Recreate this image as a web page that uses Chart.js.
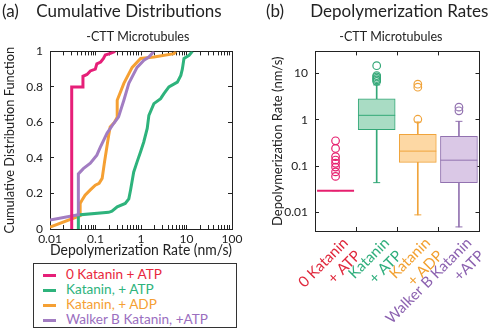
<!DOCTYPE html>
<html>
<head>
<meta charset="utf-8">
<script src="https://cdn.jsdelivr.net/npm/chart.js@4/dist/chart.umd.min.js"></script>
<style>
  html, body { margin: 0; padding: 0; background: #fff; }
  body { width: 500px; height: 331px; position: relative; overflow: hidden; font-family: Lato, "Open Sans", sans-serif; }
  #cdfWrap { position: absolute; left: 0; top: 0; width: 250px; height: 262px; }
  #boxWrap { position: absolute; left: 262px; top: 0; width: 238px; height: 331px; }
  #cdfLegend { position: absolute; left: 33px; top: 263px; width: 204px; height: 65px; border: 1px solid #333; box-sizing: border-box; padding-top: 3px; }
  #cdfLegend .row { height: 15px; line-height: 15px; font-size: 13.6px; white-space: nowrap; }
  #cdfLegend .sw { display: inline-block; width: 13px; height: 3px; margin: 0 10px 0 9px; vertical-align: middle; }
</style>
</head>
<body>
<div id="cdfWrap"><canvas id="cdfChart" width="250" height="262"></canvas></div>
<div id="cdfLegend"></div>
<div id="boxWrap"><canvas id="boxChart" width="238" height="331"></canvas></div>
<script>
// ---- (a) cumulative distributions: rate (nm/s) vs CDF
const zeroKatRate = [0.030, 0.030, 0.053, 0.053, 0.065, 0.077, 0.099, 0.107, 0.13, 0.15, 0.164, 0.22, 0.27];
const zeroKatCdf  = [0.0, 0.80, 0.80, 0.86, 0.87, 0.89, 0.90, 0.93, 0.94, 0.96, 0.98, 0.99, 1.0];

const katAtpRate = [0.042, 0.042, 0.195, 0.23, 0.30, 0.45, 0.54, 0.59, 0.69, 0.82, 0.975, 1.15, 1.37, 1.49, 1.92, 2.70, 3.19, 4.11, 6.3, 7.5, 8.1, 8.8, 11.4, 13.5];
const katAtpCdf  = [0.0, 0.079, 0.094, 0.10, 0.125, 0.144, 0.17, 0.22, 0.32, 0.378, 0.434, 0.49, 0.566, 0.64, 0.706, 0.734, 0.762, 0.80, 0.827, 0.865, 0.90, 0.96, 0.978, 1.0];

const katAdpRate = [0.01, 0.046, 0.046, 0.05, 0.059, 0.077, 0.099, 0.12, 0.14, 0.158, 0.195, 0.21, 0.26, 0.30, 0.30, 0.42, 0.64, 0.98, 1.93, 5.3, 5.8];
const katAdpCdf  = [0.01, 0.075, 0.144, 0.16, 0.19, 0.22, 0.247, 0.257, 0.285, 0.378, 0.528, 0.575, 0.60, 0.63, 0.725, 0.82, 0.91, 0.96, 0.968, 0.987, 1.0];

const walkerRate = [0.01, 0.042, 0.042, 0.054, 0.077, 0.107, 0.127, 0.18, 0.25, 0.32, 0.42, 0.54, 0.82, 1.16, 1.49, 1.77, 1.93];
const walkerCdf  = [0.05, 0.08, 0.31, 0.34, 0.37, 0.416, 0.46, 0.54, 0.594, 0.63, 0.725, 0.82, 0.91, 0.95, 0.968, 0.99, 1.0];

const seriesNames = ['0 Katanin + ATP', 'Katanin, + ATP', 'Katanin, + ADP', 'Walker B Katanin, +ATP'];
const lineColors = ['#e61f78', '#2eb37c', '#f5a033', '#a27dc2'];
const legendTextColors = ['#e8283c', '#2eb37c', '#f5a033', '#9b6fbf'];
const rateTicks = [0.01, 0.1, 1, 10, 100];
const cdfTicks = [0, 0.2, 0.4, 0.6, 0.8, 1];

// ---- (b) box plot summary (nm/s)
const boxCategories = seriesNames;
const boxTickLabels = [['0 Katanin', '+ ATP'], ['Katanin', '+ ATP'], ['Katanin', '+ ADP'], ['Walker B Katanin', '+ATP']];
const boxLabelColors = ['#e0283c', '#2fae7c', '#f2a030', '#8c62b0'];
const boxEdge = ['#e61f6e', '#34a878', '#f0a43c', '#9272b0'];
const boxFill = ['#f7b6cf', '#a9dcc4', '#fdd8a4', '#dac8e6'];
const whiskerLow  = [0.0296, 0.044, 0.0089, 0.0049];
const boxQ1       = [0.0296, 0.61, 0.12, 0.044];
const boxMedian   = [0.0296, 1.24, 0.21, 0.134];
const boxQ3       = [0.0296, 2.8, 0.48, 0.44];
const whiskerHigh = [0.0296, 5.6, 0.89, 0.92];
const outliers = [
  [0.35, 0.24, 0.16, 0.135, 0.115, 0.095, 0.075, 0.06],
  [14.5, 8.9, 8.3, 7.7, 7.2, 6.7],
  [5.8, 5.0, 1.02],
  [1.86, 1.55]
];
const rateAxisTicks = [0.01, 0.1, 1, 10];

const ink = '#222';
const fam = 'Lato, "Open Sans", sans-serif';

// tick marks at 1..9 of every decade between lo and hi
function decadeMarks(lo, hi) {
  const out = [];
  for (let d = lo; d < hi; d *= 10) {
    for (let m = 1; m < 10; m++) out.push({ value: +(d * m).toPrecision(3) });
  }
  out.push({ value: hi });
  return out;
}

function isDecade(v) {
  const l = Math.log10(v);
  return Math.abs(l - Math.round(l)) < 1e-6;
}

// ---------- left chart
const cdfSeries = [
  { rate: zeroKatRate, cdf: zeroKatCdf, order: 0 },
  { rate: katAtpRate, cdf: katAtpCdf, order: 2 },
  { rate: katAdpRate, cdf: katAdpCdf, order: 3 },
  { rate: walkerRate, cdf: walkerCdf, order: 1 }
];

new Chart(document.getElementById('cdfChart'), {
  type: 'line',
  data: {
    datasets: cdfSeries.map((s, i) => ({
      label: seriesNames[i],
      data: s.rate.map((r, k) => ({ x: r, y: s.cdf[k] })),
      borderColor: lineColors[i],
      borderWidth: 3,
      pointRadius: 0,
      tension: 0,
      fill: false,
      order: s.order
    }))
  },
  options: {
    responsive: false,
    animation: false,
    events: [],
    layout: { padding: { left: 2, right: 18, top: 0, bottom: 0 } },
    plugins: {
      legend: { display: false },
      tooltip: { enabled: false },
      title: {
        display: true, align: 'start', text: '(a)    Cumulative Distributions', color: ink,
        font: { family: fam, size: 17, weight: 'normal' }, padding: { top: 1, bottom: 4 }
      },
      subtitle: {
        display: true, fullSize: false, text: '-CTT Microtubules  ', color: ink,
        font: { family: fam, size: 12.5 }, padding: { top: 4, bottom: 7 }
      }
    },
    scales: {
      x: {
        type: 'logarithmic', position: 'bottom', min: 0.01, max: 100,
        afterBuildTicks: s => { s.ticks = decadeMarks(0.01, 100); },
        afterFit: s => { s.height = 33; },
        border: { color: ink },
        grid: { drawOnChartArea: false, tickLength: -4, tickColor: ink },
        ticks: {
          autoSkip: false, maxRotation: 0, padding: 7, color: ink,
          font: { family: fam, size: 12 },
          callback: v => (isDecade(v) && rateTicks.includes(+v.toPrecision(3)) ? String(+v.toPrecision(3)) : '')
        },
        title: { display: true, text: 'Depolymerization Rate (nm/s)', color: ink, font: { family: fam, size: 14.5 }, padding: { top: 0, bottom: 3 } }
      },
      xTop: {
        axis: 'x', type: 'logarithmic', position: 'top', min: 0.01, max: 100,
        afterBuildTicks: s => { s.ticks = decadeMarks(0.01, 100); },
        afterFit: s => { s.height = 0; },
        border: { color: ink },
        grid: { drawOnChartArea: false, tickLength: -4, tickColor: ink },
        ticks: { display: false }
      },
      y: {
        type: 'linear', min: 0, max: 1,
        afterBuildTicks: s => { s.ticks = cdfTicks.map(v => ({ value: v })); },
        afterFit: s => { s.width = 48; },
        border: { color: ink },
        grid: { drawOnChartArea: false, tickLength: -4, tickColor: ink },
        ticks: { padding: 11, color: ink, font: { family: fam, size: 12 }, callback: v => String(v) },
        title: { display: true, text: 'Cumulative Distribution Function', color: ink, font: { family: fam, size: 12.8 }, padding: { top: 0, bottom: 0 } }
      },
      yRight: {
        axis: 'y', type: 'linear', position: 'right', min: 0, max: 1,
        afterBuildTicks: s => { s.ticks = cdfTicks.map(v => ({ value: v })); },
        afterFit: s => { s.width = 0; },
        border: { color: ink },
        grid: { drawOnChartArea: false, tickLength: -4, tickColor: ink },
        ticks: { display: false }
      }
    }
  }
});

// html legend for the left panel
const legendBox = document.getElementById('cdfLegend');
seriesNames.forEach((name, i) => {
  const row = document.createElement('div');
  row.className = 'row';
  row.innerHTML = '<span class="sw" style="background:' + lineColors[i] + '"></span>' +
    '<span style="color:' + legendTextColors[i] + '">' + name + '</span>';
  legendBox.appendChild(row);
});

// ---------- right chart
const capPoints = [];
const capColors = [];
const outlierPoints = [];
const outlierColors = [];
boxCategories.forEach((c, i) => {
  capPoints.push({ x: c, y: whiskerLow[i] }, { x: c, y: whiskerHigh[i] });
  capColors.push(boxEdge[i], boxEdge[i]);
  outliers[i].forEach(v => {
    outlierPoints.push({ x: c, y: v });
    outlierColors.push(boxEdge[i]);
  });
});

new Chart(document.getElementById('boxChart'), {
  type: 'bar',
  data: {
    labels: boxCategories,
    datasets: [
      {
        type: 'scatter', label: 'outliers', data: outlierPoints, order: 0,
        pointStyle: 'circle', pointRadius: 3.8, pointBorderWidth: 1.2,
        pointBorderColor: outlierColors, pointBackgroundColor: 'rgba(255,255,255,0)'
      },
      {
        type: 'scatter', label: 'median', order: 1,
        data: boxCategories.map((c, i) => ({ x: c, y: boxMedian[i] })),
        pointStyle: 'line', pointRadius: 18.5, pointBorderWidth: [2, 1, 1, 1],
        pointBorderColor: boxEdge
      },
      {
        type: 'scatter', label: 'caps', data: capPoints, order: 2,
        pointStyle: 'line', pointRadius: 3.5, pointBorderWidth: 1, pointBorderColor: capColors
      },
      {
        label: 'box', order: 3, grouped: false, barThickness: 37,
        data: boxCategories.map((c, i) => [boxQ1[i], boxQ3[i]]),
        backgroundColor: boxFill, borderColor: boxEdge, borderWidth: 1, borderSkipped: false
      },
      {
        label: 'lower whisker', order: 4, grouped: false, barThickness: 1,
        data: boxCategories.map((c, i) => [whiskerLow[i], boxQ1[i]]),
        backgroundColor: boxEdge, borderWidth: 0
      },
      {
        label: 'upper whisker', order: 4, grouped: false, barThickness: 1,
        data: boxCategories.map((c, i) => [boxQ3[i], whiskerHigh[i]]),
        backgroundColor: boxEdge, borderWidth: 0
      }
    ]
  },
  options: {
    responsive: false,
    animation: false,
    events: [],
    layout: { padding: { left: 4, right: 3, top: 0, bottom: 0 } },
    plugins: {
      legend: { display: false },
      tooltip: { enabled: false },
      title: {
        display: true, align: 'start', text: '(b)      Depolymerization Rates', color: ink,
        font: { family: fam, size: 17, weight: 'normal' }, padding: { top: 1, bottom: 4 }
      },
      subtitle: {
        display: true, fullSize: false, text: '-CTT Microtubules    ', color: ink,
        font: { family: fam, size: 12.5 }, padding: { top: 4, bottom: 7 }
      }
    },
    scales: {
      x: {
        type: 'category', position: 'bottom', offset: true,
        afterFit: s => { s.height = 100; },
        border: { color: ink },
        grid: { offset: true, drawOnChartArea: false, tickLength: -4, tickColor: ink },
        ticks: {
          autoSkip: false, minRotation: 45, maxRotation: 45, padding: 7, labelOffset: 10,
          color: ctx => boxLabelColors[ctx.index], font: { family: fam, size: 15 },
          callback: (v, i) => boxTickLabels[i]
        }
      },
      xTop: {
        axis: 'x', type: 'category', position: 'top', offset: true,
        afterFit: s => { s.height = 0; },
        border: { color: ink },
        grid: { offset: true, drawOnChartArea: false, tickLength: -4, tickColor: ink },
        ticks: { display: false }
      },
      y: {
        type: 'logarithmic', min: 0.004, max: 29.5,
        afterBuildTicks: s => { s.ticks = rateAxisTicks.map(v => ({ value: v })); },
        afterFit: s => { s.width = 49; },
        border: { color: ink },
        grid: { drawOnChartArea: false, tickLength: -4, tickColor: ink },
        ticks: { padding: 11, color: ink, font: { family: fam, size: 12 }, callback: v => String(v) },
        title: { display: true, text: 'Depolymerization Rate (nm/s)', color: ink, font: { family: fam, size: 13 }, padding: { top: 4, bottom: 0 } }
      },
      yRight: {
        axis: 'y', type: 'logarithmic', position: 'right', min: 0.004, max: 29.5,
        afterBuildTicks: s => { s.ticks = rateAxisTicks.map(v => ({ value: v })); },
        afterFit: s => { s.width = 0; },
        border: { color: ink },
        grid: { drawOnChartArea: false, tickLength: -4, tickColor: ink },
        ticks: { display: false }
      }
    }
  }
});
</script>
</body>
</html>
